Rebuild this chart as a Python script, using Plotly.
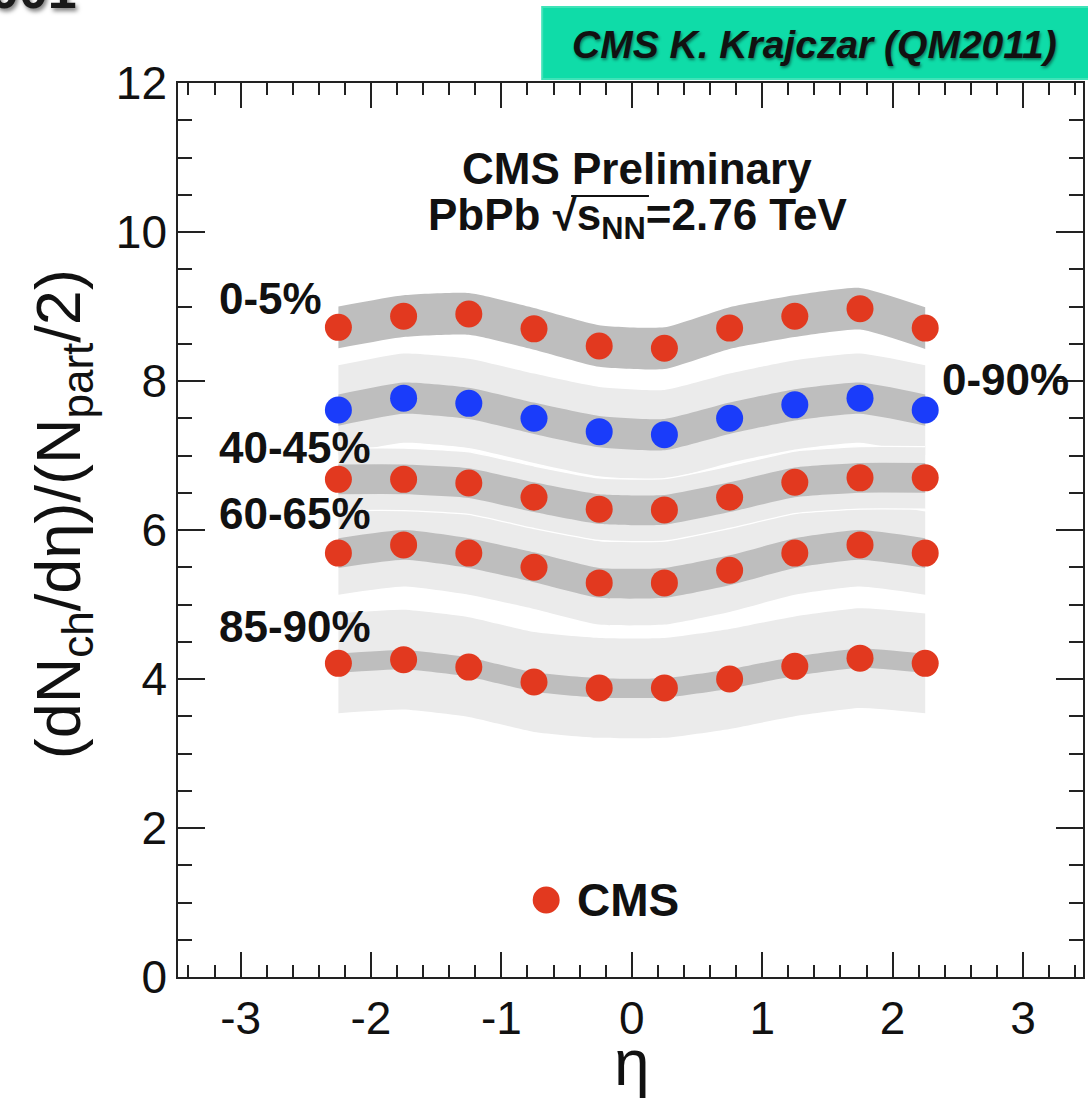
import plotly.graph_objects as go

# ---------------- data ----------------
eta = [-2.25, -1.75, -1.25, -0.75, -0.25, 0.25, 0.75, 1.25, 1.75, 2.25]
c0_5 = [8.72, 8.87, 8.90, 8.70, 8.47, 8.44, 8.71, 8.87, 8.97, 8.71]
c0_90 = [7.61, 7.77, 7.70, 7.50, 7.32, 7.28, 7.50, 7.68, 7.77, 7.61]
c40_45 = [6.68, 6.68, 6.63, 6.44, 6.28, 6.27, 6.44, 6.64, 6.70, 6.70]
c60_65 = [5.69, 5.80, 5.69, 5.50, 5.29, 5.29, 5.46, 5.69, 5.80, 5.69]
c85_90 = [4.21, 4.26, 4.16, 3.96, 3.88, 3.88, 4.00, 4.17, 4.28, 4.21]

# systematic (dark band) and Npart (light band) half widths
sys_0_5, sys_0_90, sys_40_45, sys_60_65, sys_85_90 = 0.28, 0.21, 0.20, 0.20, 0.13
npart_0_90, npart_40_45, npart_60_65, npart_85_90 = 0.60, 0.42, 0.56, 0.67

x_tick_vals = [-3, -2, -1, 0, 1, 2, 3]
x_tick_text = ["-3", "-2", "-1", "0", "1", "2", "3"]
y_tick_vals = [0, 2, 4, 6, 8, 10, 12]
y_tick_text = ["0", "2", "4", "6", "8", "10", "12"]

labels = ["0-5%", "0-90%", "40-45%", "60-65%", "85-90%"]

# ---------------- style ----------------
W, H = 1088, 1098
L, R, T, B = 178, 3, 83, 121
pw, ph = W - L - R, H - T - B
FONT = "Liberation Sans, Arial, Helvetica, sans-serif"
RED = "#e2391f"
BLUE = "#1a3cfa"
DARK = "#bebebe"
LIGHT = "#ebebeb"


def px2x(px):
    return (px - L) / pw


def py2y(py):
    return (H - B - py) / ph


fig = go.Figure()


def band(vals, half, color, edge=None):
    lo = [v - half for v in vals]
    hi = [v + half for v in vals]
    lw = 1.3 if edge else 0
    lc = edge if edge else color
    fig.add_trace(go.Scatter(x=eta, y=lo, mode="lines",
                             line=dict(width=lw, color=lc, shape="spline", smoothing=0.5),
                             showlegend=False, hoverinfo="skip"))
    fig.add_trace(go.Scatter(x=eta, y=hi, mode="lines", fill="tonexty", fillcolor=color,
                             line=dict(width=lw, color=lc, shape="spline", smoothing=0.5),
                             showlegend=False, hoverinfo="skip"))


# light bands (Npart uncertainty)
band(c0_90, npart_0_90, LIGHT)
band(c60_65, npart_60_65, LIGHT)
band(c85_90, npart_85_90, LIGHT)
band(c40_45, npart_40_45, LIGHT, edge="white")

# dark bands (systematics)
band(c0_5, sys_0_5, DARK)
band(c0_90, sys_0_90, DARK)
band(c40_45, sys_40_45, DARK)
band(c60_65, sys_60_65, DARK)
band(c85_90, sys_85_90, DARK)

# points
for vals, col in [(c0_5, RED), (c0_90, BLUE), (c40_45, RED), (c60_65, RED), (c85_90, RED)]:
    fig.add_trace(go.Scatter(x=eta, y=vals, mode="markers",
                             marker=dict(size=27, color=col, line=dict(width=0)),
                             showlegend=False))

axis_common = dict(showgrid=False, zeroline=False, showline=True, linecolor="#222",
                   linewidth=1.6, mirror="allticks", ticks="inside", tickcolor="#222",
                   tickwidth=1.6, tickfont=dict(family=FONT, size=46, color="#111"))

fig.update_xaxes(range=[-3.48, 3.46], tickvals=x_tick_vals, ticktext=x_tick_text,
                 ticklen=25,
                 minor=dict(ticks="inside", dtick=0.2, tick0=0, ticklen=12,
                            tickcolor="#222", tickwidth=1.6),
                 **axis_common)
fig.update_yaxes(range=[0, 12], tickvals=y_tick_vals, ticktext=y_tick_text,
                 ticklen=27,
                 minor=dict(ticks="inside", dtick=0.5, tick0=0, ticklen=14,
                            tickcolor="#222", tickwidth=1.6),
                 **axis_common)

ann = []


def txt(text, px, py, size, xanchor="center", bold=True, italic=False, angle=0, color="#111", shadow=None):
    f = dict(family=FONT, size=size, color=color, weight="bold" if bold else "normal",
             style="italic" if italic else "normal")
    if shadow:
        f["shadow"] = shadow
    ann.append(dict(text=text, x=px2x(px), y=py2y(py), xref="paper", yref="paper",
                    xanchor=xanchor, yanchor="middle", showarrow=False, font=f,
                    textangle=angle))


# header texts
txt("CMS Preliminary", 638, 168, 44)
txt("PbPb √s<sub>NN</sub>=2.76 TeV", 639, 218, 44)

# centrality labels
txt(labels[0], 217, 298, 44, xanchor="left")
txt(labels[1], 942, 379, 44, xanchor="left")
txt(labels[2], 217, 448, 44, xanchor="left")
txt(labels[3], 217, 513, 44, xanchor="left")
txt(labels[4], 217, 626, 44, xanchor="left")

# legend
txt("CMS", 576, 900, 46, xanchor="left")

# axis titles
txt("η", 633, 1063, 64, bold=False)
txt("(dN<sub>ch</sub>/dη)/(N<sub>part</sub>/2)", 62, 514, 63, bold=False, angle=-90)

# top banner
txt("CMS K. Krajczar (QM2011)", 816, 44, 39, italic=True,
    shadow="1px 2px 3px rgba(0,0,0,0.45)")
# clipped slide title remnant at top-left
txt("001", -12, -10, 52, xanchor="left", color="#1a1a1a",
    shadow="2px 3px 4px rgba(0,0,0,0.5)")

shapes = [
    dict(type="rect", xref="paper", yref="paper", x0=px2x(543), x1=px2x(1092),
         y0=py2y(79), y1=py2y(7), fillcolor="#0fdca8",
         line=dict(color="#3fe3b8", width=2), layer="above"),
    # overline of the square root
    dict(type="line", xref="paper", yref="paper", x0=px2x(572), x1=px2x(650),
         y0=py2y(196), y1=py2y(196), line=dict(color="#111", width=2)),
    # legend marker
    dict(type="circle", xref="paper", yref="paper", x0=px2x(547 - 13.5), x1=px2x(547 + 13.5),
         y0=py2y(900 + 13.5), y1=py2y(900 - 13.5), fillcolor=RED, line=dict(width=0)),
]

fig.update_layout(width=W, height=H, margin=dict(l=L, r=R, t=T, b=B),
                  paper_bgcolor="white", plot_bgcolor="white",
                  annotations=ann, shapes=shapes, showlegend=False)

fig.write_html("out.html")
